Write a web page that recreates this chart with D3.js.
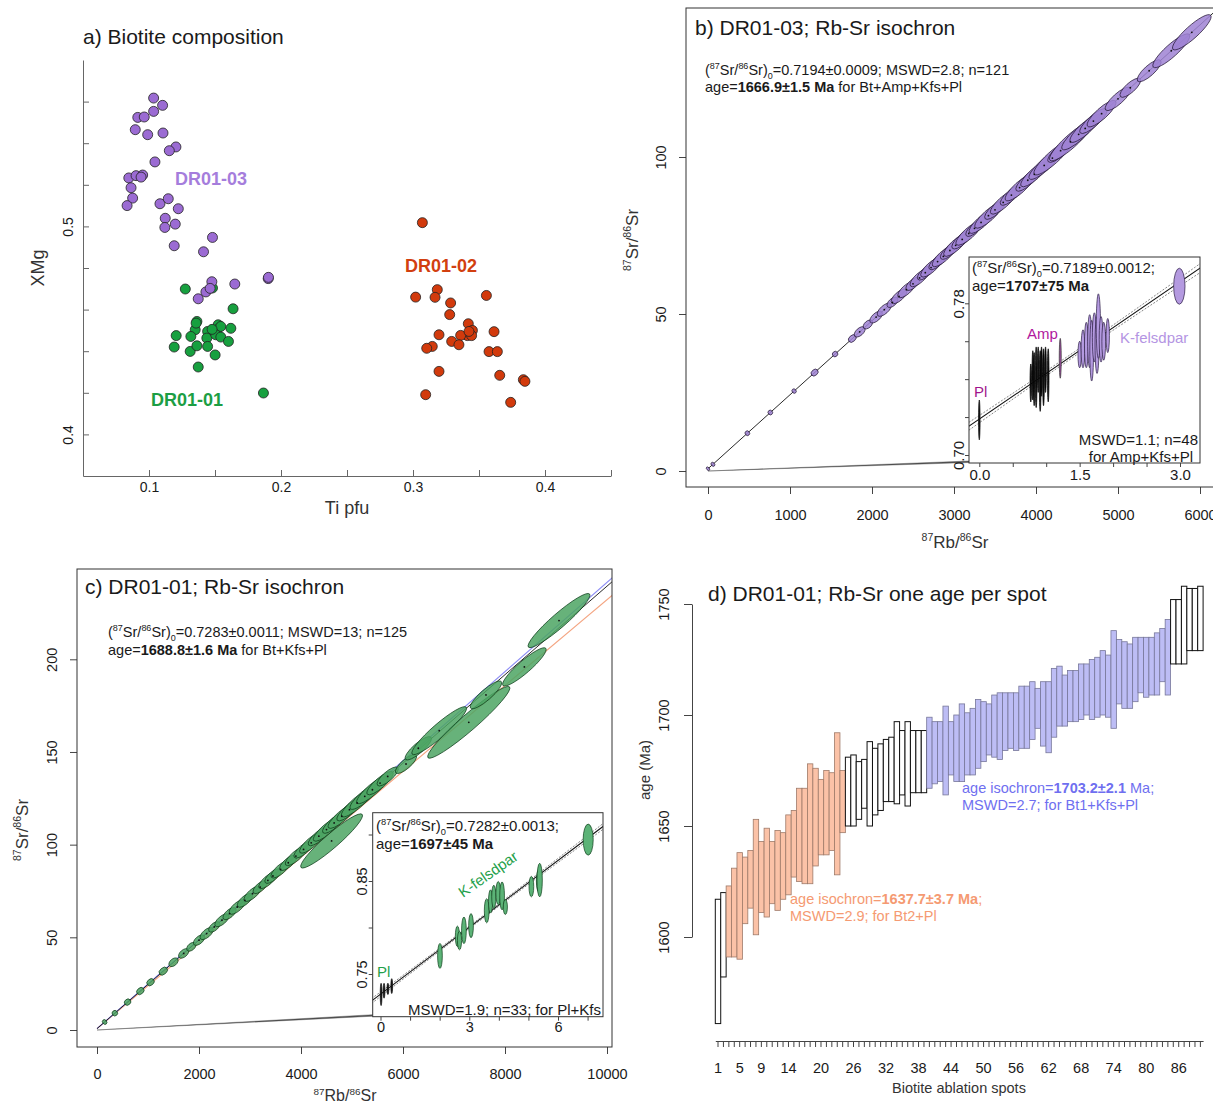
<!DOCTYPE html>
<html>
<head>
<meta charset="utf-8">
<script src="https://cdn.jsdelivr.net/npm/d3@7"></script>
<style>
  body { margin: 0; background: #fff; }
  svg { display: block; }
  text { font-family: "Liberation Sans", Arial, Helvetica, sans-serif; }
</style>
</head>
<body>
<svg id="fig" width="1213" height="1104"></svg>
<script>
// ---------- a) biotite composition ----------
const purpleTi = [0.1035,0.1103,0.1035,0.0915,0.0964,0.0896,0.099,0.1106,0.1204,0.1154,0.1045,0.0847,0.0902,0.0952,0.094,0.0864,0.0876,0.0834,0.1083,0.1146,0.1222,0.1123,0.112,0.1199,0.1191,0.1481,0.1413,0.1476,0.165,0.1431,0.1373,0.1903,0.1463,0.1905];
const purpleXMg = [0.5617,0.5582,0.5553,0.5524,0.5526,0.5465,0.5441,0.5449,0.5382,0.5364,0.531,0.5233,0.5244,0.5247,0.5237,0.5186,0.5136,0.51,0.5109,0.5133,0.5085,0.5039,0.4995,0.5011,0.4907,0.4947,0.4878,0.4734,0.4723,0.4685,0.4652,0.4749,0.4702,0.4755];
const greenTi = [0.1275,0.1637,0.1363,0.135,0.1444,0.1524,0.1514,0.1544,0.162,0.1206,0.1317,0.1438,0.1506,0.1544,0.1602,0.1191,0.1312,0.1363,0.1444,0.1501,0.1373,0.1867,0.1481,0.1357,0.1478];
const greenXMg = [0.4699,0.4604,0.4543,0.4503,0.4495,0.4527,0.4503,0.4519,0.451,0.4475,0.4471,0.4463,0.4479,0.4468,0.4447,0.442,0.4399,0.4426,0.4423,0.4382,0.4324,0.4199,0.4704,0.4535,0.4505];
const redTi = [0.3071,0.302,0.3184,0.3167,0.3285,0.3556,0.3278,0.3419,0.345,0.3412,0.3361,0.3444,0.3614,0.3197,0.3293,0.3348,0.3146,0.3104,0.3576,0.3639,0.3197,0.3657,0.3836,0.3848,0.3096,0.374,0.3424];
const redXMg = [0.5018,0.466,0.4696,0.4659,0.4632,0.4668,0.4576,0.4532,0.45,0.4475,0.4476,0.4475,0.4494,0.4479,0.4447,0.4431,0.4423,0.4414,0.4398,0.4398,0.4303,0.4284,0.4263,0.4255,0.4191,0.4154,0.4495];
const aXTicks = [0.05,0.1,0.15,0.2,0.25,0.3,0.35,0.4,0.45];
const aXLabels = [0.1,0.2,0.3,0.4];
const aYTicks = [0.4,0.42,0.44,0.46,0.48,0.5,0.52,0.54,0.56];
const aYLabels = [0.4,0.5];

// ---------- b) DR01-03 isochron ----------
const bRb = [0,60,480,760,1050,1300,1550,1760,1850,1950,2050,2150,2250,2330,2420,2500,2580,2650,2720,2800,2870,2950,3020,3100,3180,3250,3330,3420,3500,3600,3700,3800,3900,3980,4100,4200,4300,4420,4520,4600,4700,4800,5000,5150,5380,5650,5900];
const bSr = [0.72,2.13,12.03,18.63,25.46,31.35,37.24,42.19,44.31,46.66,49.02,51.37,53.73,55.62,57.74,59.62,61.50,63.16,64.80,66.69,68.34,70.22,71.87,73.76,75.64,77.29,79.17,81.30,83.18,85.54,87.89,90.25,92.60,94.49,97.32,99.67,102.03,104.86,107.21,109.10,111.45,113.81,118.52,122.05,127.47,133.83,139.72];
const bErr = [12,15,20,20,18,35,25,40,60,50,70,80,60,90,100,80,110,90,120,100,130,110,140,120,150,100,140,160,120,150,130,170,140,160,180,220,150,250,200,180,160,170,150,120,140,220,230];
const bXTicks = [0,1000,2000,3000,4000,5000,6000];
const bYTicks = [0,50,100];
const bAge = 1666.9, bInit = 0.7194;

// b inset: Pl, Amp, Kfs
const biPlRb = [0.0], biPlSr = [0.7185], biPlEx = [0.008], biPlEy = [0.0105];
const biAmpRb = [0.77,0.80,0.82,0.85,0.88,0.91,0.93,0.96,0.99,1.03];
const biAmpSr = [0.738,0.742,0.740,0.741,0.745,0.739,0.744,0.741,0.745,0.742];
const biAmpEx = [0.012,0.012,0.012,0.013,0.012,0.013,0.012,0.013,0.012,0.012];
const biAmpEy = [0.010,0.013,0.014,0.016,0.012,0.016,0.013,0.015,0.012,0.014];
const biAmp2Rb = [1.21], biAmp2Sr = [0.751], biAmp2Ex = [0.015], biAmp2Ey = [0.0105];
const biKfsRb = [1.50,1.55,1.60,1.65,1.68,1.72,1.76,1.78,1.82,1.86,1.92,2.99];
const biKfsSr = [0.753,0.756,0.758,0.760,0.755,0.762,0.758,0.768,0.761,0.760,0.763,0.789];
const biKfsEx = [0.025,0.028,0.028,0.03,0.028,0.03,0.03,0.032,0.028,0.028,0.025,0.085];
const biKfsEy = [0.007,0.010,0.012,0.014,0.016,0.013,0.015,0.017,0.012,0.010,0.009,0.0095];
const biXTicks = [0,0.5,1,1.5,2,2.5,3];
const biXLabels = [0,1.5,3];
const biYTicks = [0.70,0.72,0.74,0.76,0.78];
const biYLabels = [0.70,0.78];
const biAge = 1707, biAgeErr = 75, biInit = 0.7189;

// ---------- c) DR01-01 isochron ----------
const cRb = [150,350,600,850,1050,1300,1500,1700,1850,2000,2150,2300,2450,2600,2750,2900,3050,3200,3350,3450,3600,3750,3900,4050,4200,4350,4500,4650,4800,4950,5100,5250,5400,5550,5700,4600,6059,6300,6710,7290,7627,8380,9059];
const cSr = [4.31,9.08,15.05,21.02,25.79,31.76,36.54,41.31,44.89,48.47,52.05,55.63,59.21,62.79,66.37,69.95,73.53,77.11,80.69,83.08,86.66,90.24,93.82,97.40,100.98,104.56,108.14,111.72,115.31,118.89,122.47,126.05,129.63,133.21,136.79,102,143.5,152,161.5,166,180.8,195.9,220.9];
const cErr = [30,40,50,60,60,70,80,90,80,100,120,100,130,120,150,140,160,130,170,150,180,160,200,180,220,200,250,220,260,240,300,280,300,250,200,600,200,250,530,800,300,420,600];
const cXTicks = [0,2000,4000,6000,8000,10000];
const cYTicks = [0,50,100,150,200];
const cAge = 1688.8, cInit = 0.7283;
const cAgeBt1 = 1703.2, cAgeBt2 = 1637.7;

// c inset: Pl, Kfs
const ciPlRb = [0.02,0.12,0.25,0.38], ciPlSr = [0.728,0.732,0.734,0.737];
const ciPlEx = [0.03,0.03,0.03,0.03], ciPlEy = [0.012,0.008,0.006,0.008];
const ciKfsRb = [2.01,2.60,2.67,2.82,3.06,3.59,3.72,3.83,3.98,4.11,4.22,5.10,5.35,5.38,7.02];
const ciKfsSr = [0.7695,0.7905,0.786,0.797,0.802,0.818,0.828,0.833,0.837,0.834,0.822,0.844,0.85,0.851,0.8945];
const ciKfsEx = [0.08,0.07,0.07,0.08,0.08,0.08,0.07,0.07,0.08,0.08,0.07,0.08,0.08,0.09,0.17];
const ciKfsEy = [0.0134,0.011,0.010,0.0143,0.013,0.013,0.0125,0.0125,0.0125,0.015,0.008,0.011,0.012,0.018,0.0167];
const ciXTicks = [0,1,2,3,4,5,6,7];
const ciXLabels = [0,3,6];
const ciYTicks = [0.75,0.80,0.85,0.90];
const ciYLabels = [0.75,0.85];
const ciAge = 1697, ciAgeErr = 45, ciInit = 0.7282;

// ---------- d) one age per spot ----------
const dSpots = d3.range(1, 91);
const dGroup = ("nn" + "o".repeat(22) + "n".repeat(15) + "b".repeat(45) + "n".repeat(6)).split("");
const dAgeLo = [1561,1582,1591,1591,1590,1606,1613,1601,1611,1609,1615,1612,1617,1619,1627,1625,1624,1624,1632,1637,1637,1639,1628,1647,
  1650,1650,1653,1658,1650,1655,1657,1661,1661,1660,1664,1659,1665,1665,1665,
  1667,1669,1670,1664,1673,1670,1670,1673,1673,1676,1679,1682,1681,1680,1684,1685,1684,1685,1685,1689,1694,1686,1683,1690,1695,1695,1697,1697,1698,1700,1698,1699,1700,1699,1694,1705,1703,1703,1706,1710,1708,1709,1709,1715,1709,
  1723,1723,1723,1729,1729,1729];
const dAgeHi = [1617,1620,1623,1631,1638,1636,1639,1653,1643,1649,1643,1648,1647,1655,1657,1667,1667,1678,1676,1671,1675,1674,1692,1675,
  1681,1682,1679,1680,1688,1685,1687,1689,1690,1697,1693,1697,1693,1693,1693,
  1699,1697,1697,1704,1697,1700,1705,1701,1703,1707,1706,1705,1709,1710,1710,1710,1710,1713,1713,1715,1712,1715,1715,1721,1722,1718,1720,1720,1723,1723,1725,1726,1729,1727,1738,1734,1733,1732,1735,1735,1735,1735,1737,1739,1743,
  1752,1752,1758,1757,1757,1758];
const dYTicks = [1600,1650,1700,1750];
const dXLabels = [1,5,9,14,20,26,32,38,44,50,56,62,68,74,80,86];

// ---------- helpers ----------
const LAMBDA = 1.397e-11;
const isoSlope = age => Math.expm1(LAMBDA * age * 1e6);
const INK = "#1a1a1a";

const svg = d3.select("#fig");
svg.append("rect").attr("width", 1213).attr("height", 1104).attr("fill", "#fff");
const defs = svg.append("defs");

function clip(id, x0, y0, x1, y1) {
  defs.append("clipPath").attr("id", id).append("rect")
    .attr("x", x0).attr("y", y0).attr("width", x1 - x0).attr("height", y1 - y0);
  return `url(#${id})`;
}

// text with superscript / subscript / bold pieces
function rich(parent, x, y, segs, o = {}) {
  const size = o.size || 14;
  const g = parent.append("g")
    .attr("transform", `translate(${x},${y})` + (o.rotate ? ` rotate(${o.rotate})` : ""));
  const t = g.append("text").attr("font-size", size)
    .attr("text-anchor", o.anchor || "start").attr("fill", o.fill || INK);
  if (o.weight) t.attr("font-weight", o.weight);
  let shift = 0;
  segs.forEach(seg => {
    const [s, k] = Array.isArray(seg) ? seg : [seg, ""];
    const target = k === "sup" ? -0.4 * size : k === "sub" ? 0.28 * size : 0;
    const ts = t.append("tspan").attr("dy", target - shift).text(s);
    shift = target;
    if (k === "sup" || k === "sub") ts.attr("font-size", 0.62 * size);
    if (k === "b") ts.attr("font-weight", "bold");
  });
  return t;
}
const SR0 = [["("], ["87", "sup"], ["Sr/"], ["86", "sup"], ["Sr)"], ["0", "sub"]];
const SRSR = [["87", "sup"], ["Sr/"], ["86", "sup"], ["Sr"]];
const RBSR = [["87", "sup"], ["Rb/"], ["86", "sup"], ["Sr"]];

function styleAxis(g, color, size) {
  g.selectAll("path.domain").attr("stroke", color);
  g.selectAll(".tick line").attr("stroke", color);
  g.selectAll(".tick text").attr("fill", INK).attr("font-size", size)
    .attr("font-family", '"Liberation Sans", Arial, sans-serif');
}
function rotateYLabels(g, off) {
  g.selectAll(".tick text").attr("x", null).attr("dy", null)
    .attr("y", -off).attr("transform", "rotate(-90)").attr("text-anchor", "middle");
}
const fmtIf = (list, f) => d => list.some(v => Math.abs(v - d) < 1e-9) ? f(d) : "";

// ellipses elongated along an isochron
function lineEllipses(g, xs, ys, rb, sr, err, slope, ryScale, fill, stroke) {
  const rows = d3.zip(rb, sr, err).map(([x, y, e]) => {
    const cx = xs(x), cy = ys(y);
    const dx = xs(x + e) - cx, dy = ys(y + slope * e) - cy;
    return { cx, cy, rx: Math.max(1, Math.hypot(dx, dy)), ry: ryScale(e),
             ang: Math.atan2(dy, dx) * 180 / Math.PI };
  });
  g.append("g").selectAll("ellipse").data(rows).join("ellipse")
    .attr("cx", d => d.cx).attr("cy", d => d.cy).attr("rx", d => d.rx).attr("ry", d => d.ry)
    .attr("transform", d => `rotate(${d.ang},${d.cx},${d.cy})`)
    .attr("fill", fill).attr("fill-opacity", 0.85)
    .attr("stroke", stroke).attr("stroke-width", 0.7);
  g.append("g").selectAll("circle").data(rows.filter(d => d.rx > 6)).join("circle")
    .attr("cx", d => d.cx).attr("cy", d => d.cy).attr("r", 0.9).attr("fill", "#111");
}
// axis-aligned ellipses (insets)
function boxEllipses(g, xs, ys, rb, sr, ex, ey, fill, stroke) {
  g.append("g").selectAll("ellipse").data(d3.zip(rb, sr, ex, ey)).join("ellipse")
    .attr("cx", d => xs(d[0])).attr("cy", d => ys(d[1]))
    .attr("rx", d => Math.max(0.8, xs(d[0] + d[2]) - xs(d[0])))
    .attr("ry", d => ys(d[1] - d[3]) - ys(d[1]))
    .attr("fill", fill).attr("stroke", stroke).attr("stroke-width", 0.7);
}
function isoLine(g, xs, ys, init, slope, x0, x1, color, width) {
  g.append("path")
    .attr("d", d3.line()([[xs(x0), ys(init + slope * x0)], [xs(x1), ys(init + slope * x1)]]))
    .attr("stroke", color).attr("stroke-width", width).attr("fill", "none");
}
function envelope(g, xs, ys, init, slope, sSlope, sCen, xc, x0, x1) {
  const pts = d3.range(x0, x1 + 1e-9, (x1 - x0) / 40);
  [-1, 1].forEach(sg => {
    g.append("path")
      .attr("d", d3.line()(pts.map(x => [xs(x), ys(init + slope * x + sg * Math.hypot(sCen, (x - xc) * sSlope))])))
      .attr("fill", "none").attr("stroke", "#666").attr("stroke-width", 0.8).attr("stroke-dasharray", "2,1.5");
  });
}
function connector(g, x0, y0, x1, y1) {
  g.append("path").attr("d", d3.line()([[x0, y0], [x1, y1 - 0.5], [x1, y1 - 2]]) + "Z")
    .attr("fill", "#555").attr("stroke", "#444").attr("stroke-width", 0.4);
}

// ================= panel a =================
{
  const xA = d3.scaleLinear().domain([0.05, 0.45]).range([83, 611]);
  const yA = d3.scaleLinear().domain([0.38, 0.58]).range([476, 60]);
  const g = svg.append("g");
  const gx = g.append("g").attr("transform", "translate(0,476)")
    .call(d3.axisBottom(xA).tickValues(aXTicks).tickSize(-6).tickSizeOuter(0)
      .tickFormat(fmtIf(aXLabels, d3.format(".1f"))));
  styleAxis(gx, "#666", 14);
  gx.selectAll(".tick text").attr("y", 6);
  const gy = g.append("g").attr("transform", "translate(83,0)")
    .call(d3.axisLeft(yA).tickValues(aYTicks).tickSize(-6).tickSizeOuter(0)
      .tickFormat(fmtIf(aYLabels, d3.format(".1f"))));
  styleAxis(gy, "#666", 14);
  rotateYLabels(gy, 10);

  const pts = (ti, xm, fill) => g.append("g").selectAll("circle").data(d3.zip(ti, xm)).join("circle")
    .attr("cx", d => xA(d[0])).attr("cy", d => yA(d[1])).attr("r", 5)
    .attr("fill", fill).attr("stroke", "#222").attr("stroke-width", 0.8);
  pts(greenTi, greenXMg, "#17a03f");
  pts(purpleTi, purpleXMg, "#9b6bd3");
  pts(redTi, redXMg, "#d23a0c");

  g.append("text").attr("x", 175).attr("y", 185).attr("font-size", 18).attr("font-weight", "bold")
    .attr("fill", "#a57ddc").text("DR01-03");
  g.append("text").attr("x", 405).attr("y", 272).attr("font-size", 18).attr("font-weight", "bold")
    .attr("fill", "#d23f10").text("DR01-02");
  g.append("text").attr("x", 151).attr("y", 406).attr("font-size", 18).attr("font-weight", "bold")
    .attr("fill", "#1c9e44").text("DR01-01");

  g.append("text").attr("x", 83).attr("y", 44).attr("font-size", 21).attr("fill", INK).text("a) Biotite composition");
  g.append("text").attr("x", 347).attr("y", 514).attr("font-size", 18).attr("text-anchor", "middle")
    .attr("fill", "#333").text("Ti pfu");
  g.append("text").attr("transform", "translate(44,268) rotate(-90)").attr("font-size", 18)
    .attr("text-anchor", "middle").attr("fill", "#333").text("XMg");
}

// ================= panel b =================
{
  const box = { x0: 686, y0: 8, x1: 1260, y1: 487 };
  const xB = d3.scaleLinear().domain([0, 6000]).range([708, 1200]);
  const yB = d3.scaleLinear().domain([0, 100]).range([471, 157]);
  const slope = isoSlope(bAge);
  const g = svg.append("g");

  const gx = g.append("g").attr("transform", `translate(0,${box.y1})`)
    .call(d3.axisBottom(xB).tickValues(bXTicks).tickSize(7).tickSizeOuter(0).tickFormat(d3.format("d")));
  gx.select("path.domain").remove();
  styleAxis(gx, "#444", 14.5);
  gx.selectAll(".tick text").attr("y", 23);
  const gy = g.append("g").attr("transform", `translate(${box.x0},0)`)
    .call(d3.axisLeft(yB).tickValues(bYTicks).tickSize(7).tickSizeOuter(0).tickFormat(d3.format("d")));
  gy.select("path.domain").remove();
  styleAxis(gy, "#444", 14.5);
  rotateYLabels(gy, 20);

  const inner = g.append("g").attr("clip-path", clip("clipB", box.x0, box.y0, box.x1, box.y1));
  isoLine(inner, xB, yB, bInit, slope, 0, 7000, "#111", 0.9);
  lineEllipses(inner, xB, yB, bRb, bSr, bErr, slope,
    d3.scaleSqrt().domain([0, 250]).range([0.8, 6.5]), "#9f82d4", "#241634");

  g.append("rect").attr("x", box.x0).attr("y", box.y0).attr("width", box.x1 - box.x0).attr("height", box.y1 - box.y0)
    .attr("fill", "none").attr("stroke", "#333").attr("stroke-width", 1);

  rich(g, 695, 35, [["b) DR01-03; Rb-Sr isochron"]], { size: 21 });
  rich(g, 705, 75, [...SR0, ["=0.7194±0.0009; MSWD=2.8; n=121"]], { size: 14.5 });
  rich(g, 705, 92, [["age="], ["1666.9±1.5 Ma", "b"], [" for Bt+Amp+Kfs+Pl"]], { size: 14.5 });
  rich(g, 955, 548, RBSR, { size: 17, anchor: "middle", fill: "#333" });
  rich(g, 638, 240, SRSR, { size: 17, anchor: "middle", rotate: -90, fill: "#333" });

  // ---- inset ----
  const ib = { x0: 969, y0: 257, x1: 1200, y1: 463 };
  const xI = d3.scaleLinear().domain([0, 3]).range([979.3, 1180]);
  const yI = d3.scaleLinear().domain([0.70, 0.78]).range([455, 303.3]);
  const sI = isoSlope(biAge);
  const sIerr = isoSlope(biAge + biAgeErr) - sI;

  connector(g, xB(0), yB(0), ib.x0, ib.y1);
  g.append("rect").attr("x", ib.x0).attr("y", ib.y0).attr("width", ib.x1 - ib.x0).attr("height", ib.y1 - ib.y0)
    .attr("fill", "#fff");
  const ii = g.append("g").attr("clip-path", clip("clipBi", ib.x0, ib.y0, ib.x1, ib.y1));
  envelope(ii, xI, yI, biInit, sI, sIerr, 0.0012, 1.4, -0.2, 3.4);
  isoLine(ii, xI, yI, biInit, sI, -0.2, 3.4, "#111", 1.1);
  boxEllipses(ii, xI, yI, biPlRb, biPlSr, biPlEx, biPlEy, "#111", "#111");
  boxEllipses(ii, xI, yI, biAmpRb, biAmpSr, biAmpEx, biAmpEy, "#111", "#000");
  boxEllipses(ii, xI, yI, biAmp2Rb, biAmp2Sr, biAmp2Ex, biAmp2Ey, "#9b4d9e", "#333");
  boxEllipses(ii, xI, yI, biKfsRb, biKfsSr, biKfsEx, biKfsEy, "#b49ae0", "#2b1c44");
  g.append("rect").attr("x", ib.x0).attr("y", ib.y0).attr("width", ib.x1 - ib.x0).attr("height", ib.y1 - ib.y0)
    .attr("fill", "none").attr("stroke", "#333").attr("stroke-width", 1);

  const ix = g.append("g").attr("transform", `translate(0,${ib.y1})`)
    .call(d3.axisBottom(xI).tickValues(biXTicks).tickSize(4).tickSizeOuter(0)
      .tickFormat(fmtIf(biXLabels, d3.format(".1f"))));
  ix.select("path.domain").remove();
  styleAxis(ix, "#444", 15);
  ix.selectAll(".tick text").attr("y", 6);
  const iy = g.append("g").attr("transform", `translate(${ib.x0},0)`)
    .call(d3.axisLeft(yI).tickValues(biYTicks).tickSize(4).tickSizeOuter(0)
      .tickFormat(fmtIf(biYLabels, d3.format(".2f"))));
  iy.select("path.domain").remove();
  styleAxis(iy, "#444", 15);
  rotateYLabels(iy, 5);

  rich(g, 972, 273, [...SR0, ["=0.7189±0.0012;"]], { size: 15 });
  rich(g, 972, 291, [["age="], ["1707±75 Ma", "b"]], { size: 15 });
  rich(g, 1198, 445, [["MSWD=1.1; n=48"]], { size: 15, anchor: "end" });
  rich(g, 1193, 462, [["for Amp+Kfs+Pl"]], { size: 15, anchor: "end" });
  rich(g, 1027, 339, [["Amp"]], { size: 15, fill: "#b0179e" });
  rich(g, 1120, 343, [["K-felsdpar"]], { size: 15, fill: "#b495e3" });
  rich(g, 974, 397, [["Pl"]], { size: 15, fill: "#a0138c" });
}

// ================= panel c =================
{
  const box = { x0: 77, y0: 569, x1: 612, y1: 1047 };
  const xC = d3.scaleLinear().domain([0, 10000]).range([97, 607]);
  const yC = d3.scaleLinear().domain([0, 200]).range([1030, 659.3]);
  const slope = isoSlope(cAge);
  const g = svg.append("g");

  const gx = g.append("g").attr("transform", `translate(0,${box.y1})`)
    .call(d3.axisBottom(xC).tickValues(cXTicks).tickSize(7).tickSizeOuter(0).tickFormat(d3.format("d")));
  gx.select("path.domain").remove();
  styleAxis(gx, "#444", 14.5);
  gx.selectAll(".tick text").attr("y", 22);
  const gy = g.append("g").attr("transform", `translate(${box.x0},0)`)
    .call(d3.axisLeft(yC).tickValues(cYTicks).tickSize(7).tickSizeOuter(0).tickFormat(d3.format("d")));
  gy.select("path.domain").remove();
  styleAxis(gy, "#444", 14.5);
  rotateYLabels(gy, 20);

  const inner = g.append("g").attr("clip-path", clip("clipC", box.x0, box.y0, box.x1, box.y1));
  isoLine(inner, xC, yC, cInit, isoSlope(cAgeBt2), 0, 11000, "#f4a582", 1.2);
  isoLine(inner, xC, yC, cInit, isoSlope(cAgeBt1), 0, 11000, "#8c8cf5", 1.2);
  isoLine(inner, xC, yC, cInit, slope, 0, 11000, "#111", 0.9);
  lineEllipses(inner, xC, yC, cRb, cSr, cErr, slope,
    d3.scaleSqrt().domain([0, 800]).range([1.2, 8]), "#4ca563", "#0d3d1a");

  g.append("rect").attr("x", box.x0).attr("y", box.y0).attr("width", box.x1 - box.x0).attr("height", box.y1 - box.y0)
    .attr("fill", "none").attr("stroke", "#333").attr("stroke-width", 1);

  rich(g, 85, 594, [["c) DR01-01; Rb-Sr isochron"]], { size: 21 });
  rich(g, 108, 637, [...SR0, ["=0.7283±0.0011; MSWD=13; n=125"]], { size: 14.5 });
  rich(g, 108, 655, [["age="], ["1688.8±1.6 Ma", "b"], [" for Bt+Kfs+Pl"]], { size: 14.5 });
  rich(g, 345, 1101, RBSR, { size: 16, anchor: "middle", fill: "#333" });
  rich(g, 28, 830, SRSR, { size: 17, anchor: "middle", rotate: -90, fill: "#333" });

  // ---- inset ----
  const ib = { x0: 372.7, y0: 812.7, x1: 603, y1: 1016.7 };
  const xI = d3.scaleLinear().domain([0, 6]).range([380.5, 558]);
  const yI = d3.scaleLinear().domain([0.75, 0.85]).range([974, 881]);
  const sI = isoSlope(ciAge);
  const sIerr = isoSlope(ciAge + ciAgeErr) - sI;

  connector(g, xC(0), yC(0), ib.x0, ib.y1);
  g.append("rect").attr("x", ib.x0).attr("y", ib.y0).attr("width", ib.x1 - ib.x0).attr("height", ib.y1 - ib.y0)
    .attr("fill", "#fff");
  const ii = g.append("g").attr("clip-path", clip("clipCi", ib.x0, ib.y0, ib.x1, ib.y1));
  envelope(ii, xI, yI, ciInit, sI, sIerr, 0.0013, 3.2, -0.3, 7.8);
  isoLine(ii, xI, yI, ciInit, sI, -0.3, 7.8, "#111", 1.1);
  boxEllipses(ii, xI, yI, ciPlRb, ciPlSr, ciPlEx, ciPlEy, "#111", "#111");
  boxEllipses(ii, xI, yI, ciKfsRb, ciKfsSr, ciKfsEx, ciKfsEy, "#5cb377", "#0d3d1a");
  g.append("rect").attr("x", ib.x0).attr("y", ib.y0).attr("width", ib.x1 - ib.x0).attr("height", ib.y1 - ib.y0)
    .attr("fill", "none").attr("stroke", "#333").attr("stroke-width", 1);

  const ix = g.append("g").attr("transform", `translate(0,${ib.y1})`)
    .call(d3.axisBottom(xI).tickValues(ciXTicks).tickSize(4).tickSizeOuter(0)
      .tickFormat(fmtIf(ciXLabels, d3.format("d"))));
  ix.select("path.domain").remove();
  styleAxis(ix, "#444", 14.5);
  ix.selectAll(".tick text").attr("y", 5);
  const iy = g.append("g").attr("transform", `translate(${ib.x0},0)`)
    .call(d3.axisLeft(yI).tickValues(ciYTicks).tickSize(4).tickSizeOuter(0)
      .tickFormat(fmtIf(ciYLabels, d3.format(".2f"))));
  iy.select("path.domain").remove();
  styleAxis(iy, "#444", 14.5);
  rotateYLabels(iy, 6);

  rich(g, 376, 831, [...SR0, ["=0.7282±0.0013;"]], { size: 15 });
  rich(g, 376, 849, [["age="], ["1697±45 Ma", "b"]], { size: 15 });
  rich(g, 601, 1015, [["MSWD=1.9; n=33; for Pl+Kfs"]], { size: 15, anchor: "end" });
  rich(g, 377, 977, [["Pl"]], { size: 15, fill: "#23a04a" });
  rich(g, 463, 898, [["K-felsdpar"]], { size: 15, fill: "#23a04a", rotate: -35 });
}

// ================= panel d =================
{
  const xD = d3.scaleBand().domain(dSpots).range([715.3, 1203.1]).padding(0);
  const yD = d3.scaleLinear().domain([1600, 1750]).range([937, 604]);
  const fills = { n: "#ffffff", o: "#fbc2a7", b: "#bdbdf5" };
  const g = svg.append("g");

  const rows = dSpots.map((s, i) => ({ s, lo: dAgeLo[i], hi: dAgeHi[i], grp: dGroup[i] }));
  g.append("g").selectAll("rect").data(rows).join("rect")
    .attr("x", d => xD(d.s)).attr("width", xD.bandwidth())
    .attr("y", d => yD(d.hi)).attr("height", d => yD(d.lo) - yD(d.hi))
    .attr("fill", d => fills[d.grp])
    .attr("stroke", d => d.grp === "n" ? "#111" : d3.color(fills[d.grp]).darker(1.3))
    .attr("stroke-width", d => d.grp === "n" ? 1 : 0.8);

  const gy = g.append("g").attr("transform", "translate(692,0)")
    .call(d3.axisLeft(yD).tickValues(dYTicks).tickSize(8).tickSizeOuter(0).tickFormat(d3.format("d")));
  styleAxis(gy, "#444", 14.5);
  rotateYLabels(gy, 23);

  const gx = g.append("g").attr("transform", "translate(0,1041)")
    .call(d3.axisBottom(xD).tickValues(dSpots).tickSize(6).tickSizeOuter(0)
      .tickFormat(d => dXLabels.includes(d) ? d : ""));
  styleAxis(gx, "#444", 14.5);
  gx.selectAll(".tick text").attr("y", 22);

  rich(g, 708, 601, [["d) DR01-01; Rb-Sr one age per spot"]], { size: 21 });
  rich(g, 959, 1093, [["Biotite ablation spots"]], { size: 14.5, anchor: "middle", fill: "#333" });
  rich(g, 650, 770, [["age (Ma)"]], { size: 15, anchor: "middle", rotate: -90, fill: "#333" });
  rich(g, 790, 904, [["age isochron="], ["1637.7±3.7 Ma", "b"], [";"]], { size: 14.5, fill: "#f59a72" });
  rich(g, 790, 921, [["MSWD=2.9; for Bt2+Pl"]], { size: 14.5, fill: "#f59a72" });
  rich(g, 962, 793, [["age isochron="], ["1703.2±2.1", "b"], [" Ma;"]], { size: 14.5, fill: "#6f6ff0" });
  rich(g, 962, 810, [["MSWD=2.7; for Bt1+Kfs+Pl"]], { size: 14.5, fill: "#6f6ff0" });
}
</script>
</body>
</html>
